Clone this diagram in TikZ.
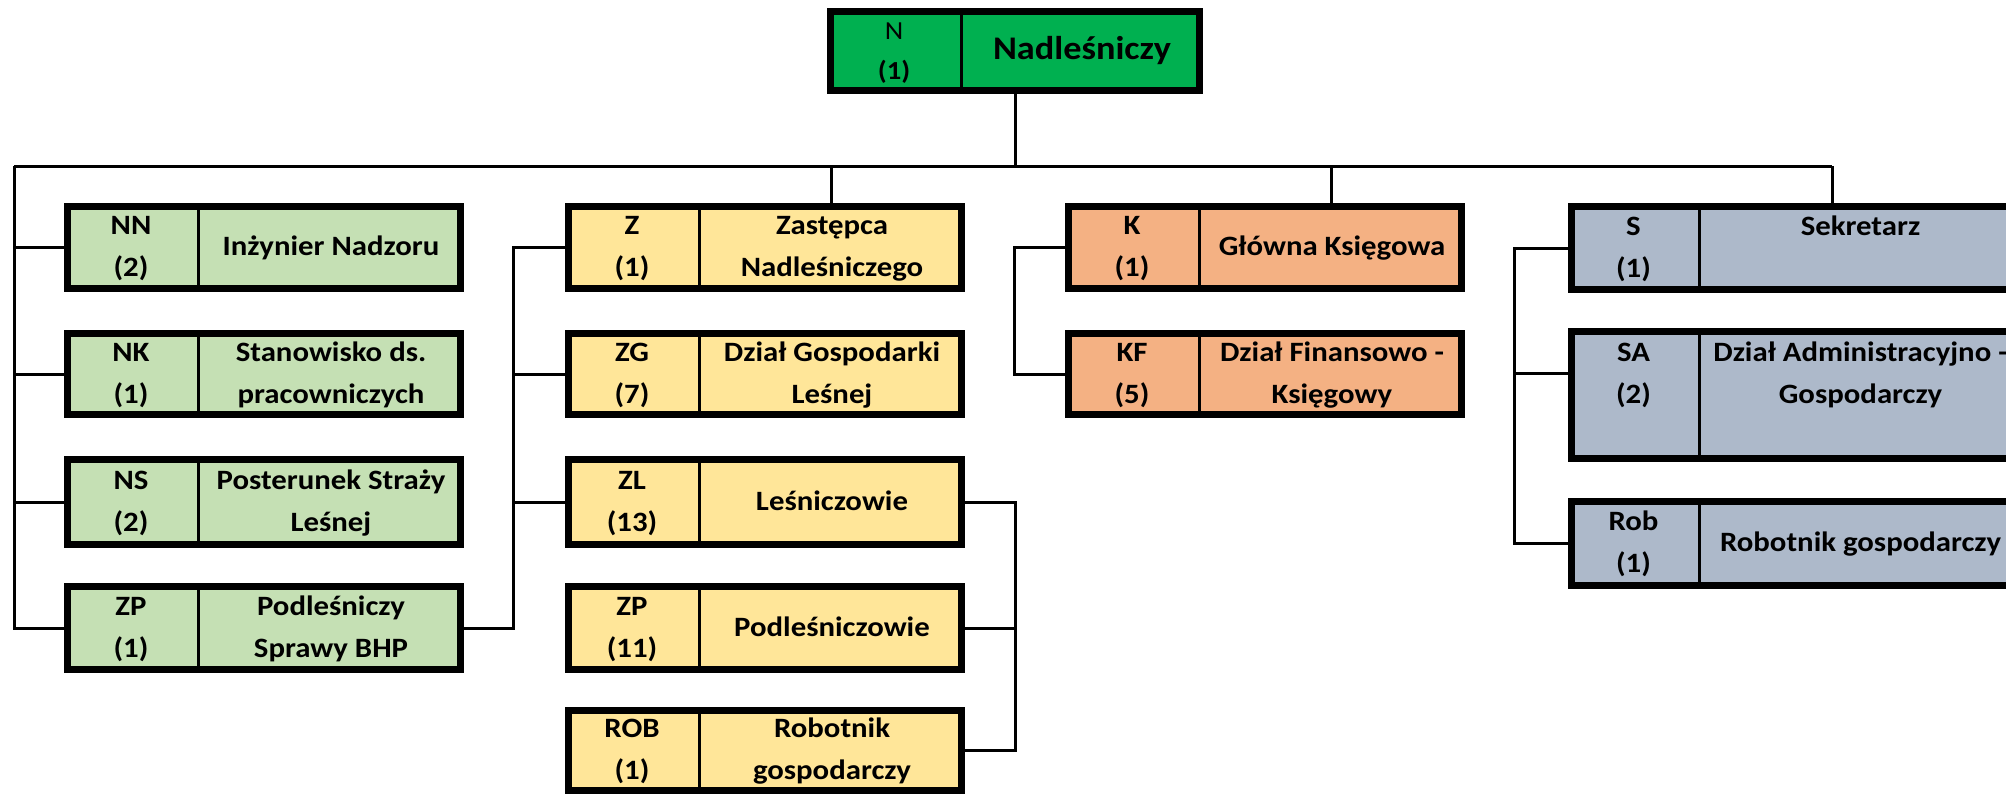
\documentclass[tikz,border=0pt]{standalone}
\usepackage{fontspec}
\setmainfont{Carlito}[FakeStretch=1.1]
\definecolor{cTop}{HTML}{00B050}
\definecolor{cGreen}{HTML}{C5E0B4}
\definecolor{cYellow}{HTML}{FFE699}
\definecolor{cOrange}{HTML}{F4B183}
\definecolor{cBlue}{HTML}{ADB9CA}
\newcommand\boxfont{\fontsize{28}{42}\selectfont\bfseries}
\tikzset{
  orgbox/.style={draw=black, line width=7pt, inner sep=0pt, rectangle},
  divider/.style={draw=black, line width=3pt},
  conn/.style={draw=black, line width=3pt},
  boxtext/.style={inner sep=0pt, align=center, font=\boxfont, text=black},
}
\newcommand\twoln[2]{\strut #1\\\strut #2}
\newcommand\obox[9]{%
  \pgfmathsetmacro\obW{#4-#2-7}%
  \pgfmathsetmacro\obH{#5-#3-7}%
  \pgfmathsetmacro\obX{(#2+#4)/2}%
  \pgfmathsetmacro\obY{(#3+#5)/2}%
  \pgfmathsetmacro\obL{(#2+#6)/2}%
  \pgfmathsetmacro\obR{(#6+#4)/2}%
  \node[orgbox, fill=#7, minimum width=\obW pt, minimum height=\obH pt] (#1) at (\obX,\obY) {};
  \draw[divider] (#6,#3+3.5) -- (#6,#5-3.5);
  \node[boxtext] (#1-code) at (\obL,\obY) {#8};
  \node[boxtext] (#1-title) at (\obR,\obY) {#9};
}
\begin{document}
\begin{tikzpicture}[x=1pt,y=-1pt]
\useasboundingbox (0,0) rectangle (2006,793);
\clip (0,0) rectangle (2006,793);
% top box
\node[orgbox, fill=cTop, minimum width=369pt, minimum height=79pt] (n) at (1015,51) {};
\draw[divider] (961,11.5) -- (961,90.5);
\node[boxtext, font=\fontsize{26}{40}\selectfont\bfseries] (n-code) at (894,51) {\twoln{\mdseries N}{(1)}};
\node[boxtext, font=\fontsize{33}{42}\selectfont\bfseries] (n-title) at (1082,51) {\strut Nadleśniczy};
% left column
\obox{nn}{64}{203}{464}{292}{198}{cGreen}{\twoln{NN}{(2)}}{\strut Inżynier Nadzoru}
\obox{nk}{64}{330}{464}{418}{198}{cGreen}{\twoln{NK}{(1)}}{\twoln{Stanowisko ds.}{pracowniczych}}
\obox{ns}{64}{456}{464}{548}{198}{cGreen}{\twoln{NS}{(2)}}{\twoln{Posterunek Straży}{Leśnej}}
\obox{zpa}{64}{583}{464}{673}{198}{cGreen}{\twoln{ZP}{(1)}}{\twoln{Podleśniczy}{Sprawy BHP}}
% middle column
\obox{z}{565}{203}{965}{292}{699}{cYellow}{\twoln{Z}{(1)}}{\twoln{Zastępca}{Nadleśniczego}}
\obox{zg}{565}{330}{965}{418}{699}{cYellow}{\twoln{ZG}{(7)}}{\twoln{Dział Gospodarki}{Leśnej}}
\obox{zl}{565}{456}{965}{548}{699}{cYellow}{\twoln{ZL}{(13)}}{\strut Leśniczowie}
\obox{zpb}{565}{583}{965}{673}{699}{cYellow}{\twoln{ZP}{(11)}}{\strut Podleśniczowie}
\obox{rob}{565}{707}{965}{794}{699}{cYellow}{\twoln{ROB}{(1)}}{\twoln{Robotnik}{gospodarczy}}
% K column
\obox{k}{1065}{203}{1465}{292}{1199}{cOrange}{\twoln{K}{(1)}}{\strut Główna Księgowa}
\obox{kf}{1065}{330}{1465}{418}{1199}{cOrange}{\twoln{KF}{(5)}}{\twoln{Dział Finansowo -}{Księgowy}}
% right column
\obox{s}{1568}{203}{2022}{293}{1699}{cBlue}{\twoln{S}{(1)}}{\twoln{Sekretarz}{}}
\obox{sa}{1568}{328}{2022}{462}{1699}{cBlue}{\twoln{SA}{(2)}\\\strut}{\twoln{Dział Administracyjno -}{Gospodarczy}\\\strut}
\obox{robs}{1568}{498}{2022}{589}{1699}{cBlue}{\twoln{Rob}{(1)}}{\strut Robotnik gospodarczy}
% junction coordinates
\coordinate (busL) at (14,166);
\coordinate (busR) at (1832,166);
\coordinate (jz) at (513,0);
\coordinate (zx) at (831,0);
\coordinate (jm) at (1015,0);
\coordinate (kx) at (1331,0);
\coordinate (jk) at (1014,0);
\coordinate (js) at (1514,0);
% connectors
\draw[conn] (n.south) -- (n.south |- busL);
\draw[conn] (busL) -- (busR);
\draw[conn] (busL) |- (zpa.west);
\draw[conn] (nn.west) -- (nn.west -| busL);
\draw[conn] (nk.west) -- (nk.west -| busL);
\draw[conn] (ns.west) -- (ns.west -| busL);
\draw[conn] (zpa.east) -| (jz |- z.west) -- (z.west);
\draw[conn] (zg.west) -- (zg.west -| jz);
\draw[conn] (zl.west) -- (zl.west -| jz);
\draw[conn] (busL -| zx) -- (z.north -| zx);
\draw[conn] (zl.east) -| (jm |- rob.east) -- (rob.east);
\draw[conn] (zpb.east) -- (zpb.east -| jm);
\draw[conn] (busL -| kx) -- (k.north -| kx);
\draw[conn] (k.west) -| (jk |- kf.west) -- (kf.west);
\draw[conn] (busR) -- (s.north -| busR);
\draw[conn] (s.west) -| (js |- robs.west) -- (robs.west);
\draw[conn] ([yshift=22pt]sa.west) -- ([yshift=22pt]sa.west -| js);
\end{tikzpicture}
\end{document}
